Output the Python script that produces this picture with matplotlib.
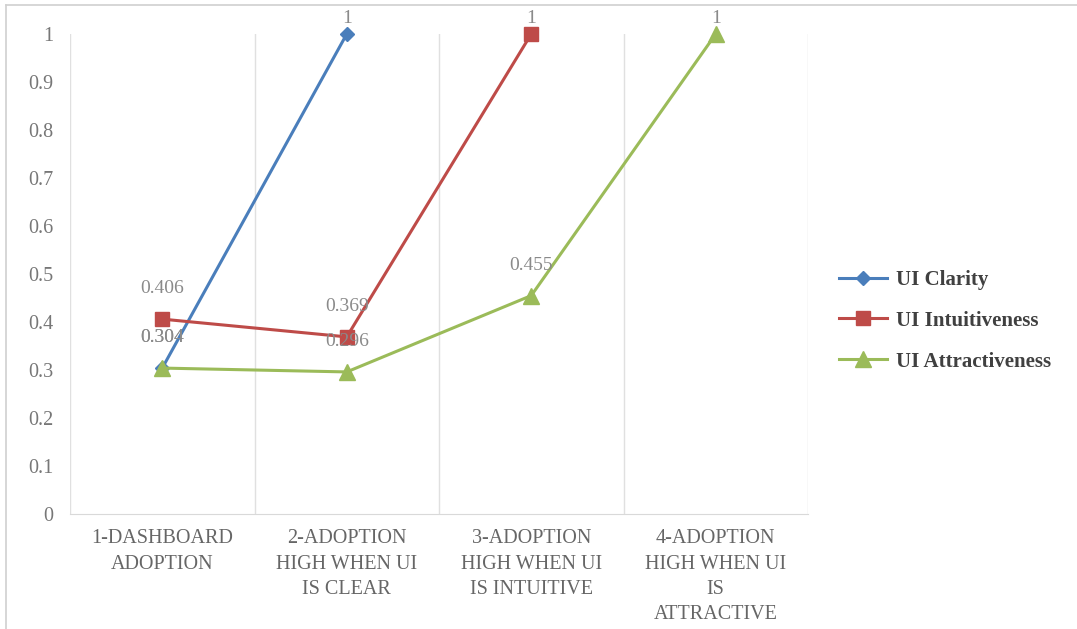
import numpy as np
import matplotlib
matplotlib.use("Agg")
import matplotlib.pyplot as plt
from matplotlib.lines import Line2D

categories = [
    "1-DASHBOARD\nADOPTION",
    "2-ADOPTION\nHIGH WHEN UI\nIS CLEAR",
    "3-ADOPTION\nHIGH WHEN UI\nIS INTUITIVE",
    "4-ADOPTION\nHIGH WHEN UI\nIS\nATTRACTIVE",
]
clarity = [0.304, 1, np.nan, np.nan]
intuitiveness = [0.406, 0.369, 1, np.nan]
attractiveness = [0.304, 0.296, 0.455, 1]
yticks = [0, 0.1, 0.2, 0.3, 0.4, 0.5, 0.6, 0.7, 0.8, 0.9, 1]
ytick_labels = ["0", "0.1", "0.2", "0.3", "0.4", "0.5", "0.6", "0.7", "0.8", "0.9", "1"]

plt.rcParams["font.family"] = ["Liberation Serif", "DejaVu Serif"]

series = [
    ("UI Clarity", clarity, "#4a7ebb", "D", 7.5),
    ("UI Intuitiveness", intuitiveness, "#be4b48", "s", 10.5),
    ("UI Attractiveness", attractiveness, "#9bbb59", "^", 11),
]

fig = plt.figure(figsize=(10.77, 6.29), dpi=100)
ax = fig.add_axes([70 / 1077, 1 - 514 / 629, (808 - 70) / 1077, 480 / 629])
x = np.arange(len(categories))

handles = []
for name, vals, col, mk, ms in series:
    ln, = ax.plot(x, vals, color=col, lw=2.2, marker=mk, ms=ms,
                  mfc=col, mec=col, clip_on=False, label=name)
    handles.append(ln)
    for xi, v in zip(x, vals):
        if np.isnan(v):
            continue
        txt = "%g" % v
        off = 11 if v >= 1 else 22
        ax.annotate(txt, (xi, v), xytext=(0, off), textcoords="offset points",
                    ha="center", va="center", fontsize=14, color="#8a8a8a")

ax.set_xlim(-0.5, len(categories) - 0.5)
ax.set_ylim(0, 1)
ax.set_yticks(yticks)
ax.set_yticklabels(ytick_labels)
ax.set_xticks(x)
ax.set_xticklabels(categories, linespacing=1.45)
ax.tick_params(axis="y", length=0, pad=12, labelsize=14.5, labelcolor="#777777")
ax.tick_params(axis="x", length=0, pad=11, labelsize=14.5, labelcolor="#666666")

for s in ["top", "right", "left"]:
    ax.spines[s].set_visible(False)
ax.spines["bottom"].set_color("#d9d9d9")
for xb in np.arange(-0.5, len(categories), 1.0):
    ax.axvline(xb, color="#e0e0e0", lw=1, zorder=0)

fig.legend(handles=handles, loc="center left", bbox_to_anchor=(0.762, 0.49),
           frameon=False, handlelength=2.3, handletextpad=0.4, labelspacing=1.0,
           prop={"weight": "bold", "size": 15}, labelcolor="#404040")

# outer frame (left and top edges)
fig.add_artist(Line2D([6 / 1077, 6 / 1077], [0, 1 - 5 / 629], color="#d0d0d0", lw=1.2))
fig.add_artist(Line2D([6 / 1077, 1], [1 - 5 / 629, 1 - 5 / 629], color="#d0d0d0", lw=1.2))

fig.savefig("out.png", dpi=100)
